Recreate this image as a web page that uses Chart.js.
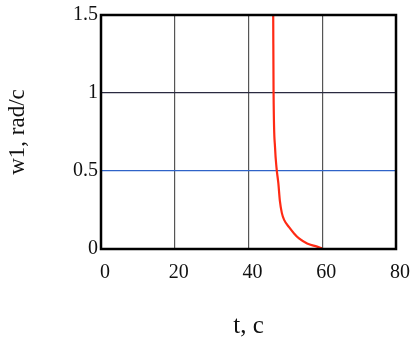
<!DOCTYPE html>
<html>
<head>
<meta charset="utf-8">
<script src="https://cdn.jsdelivr.net/npm/chart.js@4"></script>
<style>
  html, body { margin: 0; padding: 0; background: #fff; }
  #wrap { width: 418px; height: 351px; }
</style>
</head>
<body>
<div id="wrap"><canvas id="w1Chart"></canvas></div>
<script>
// values
var tVals  = [46.7, 46.8, 47.2, 47.6, 48.1, 48.5, 49.05, 49.7, 51.0, 52.35, 53.7, 55.9, 58.6, 59.9];
var w1Vals = [1.5,  1.0,  0.65, 0.52, 0.42, 0.31, 0.23,  0.185, 0.14, 0.10, 0.068, 0.036, 0.015, 0.004];
var xTicks = [0, 20, 40, 60, 80];
var yTicks = [0, 0.5, 1, 1.5];

var pts = tVals.map(function(t, i) { return { x: t, y: w1Vals[i] }; });

// horizontal grid colours like the original (0.5 line is blue)
var yGridColor = function(ctx) {
    var v = ctx.tick ? ctx.tick.value : null;
    if (v === 0.5) return '#2f63c8';
    if (v === 1) return '#2a2a40';
    return '#000';
};

var serif = "'Liberation Serif', 'DejaVu Serif', serif";

new Chart(document.getElementById('w1Chart'), {
    type: 'line',
    data: {
        datasets: [{
            label: 'w1',
            data: pts,
            borderColor: '#ff2a14',
            borderWidth: 2.2,
            pointRadius: 0,
            cubicInterpolationMode: 'monotone',
            fill: false
        }]
    },
    options: {
        responsive: true,
        maintainAspectRatio: false,
        animation: false,
        layout: { padding: { top: 14, right: 18, left: 0, bottom: 6 } },
        plugins: { legend: { display: false }, tooltip: { enabled: false } },
        scales: {
            x: {
                type: 'linear',
                min: 0, max: 80,
                afterBuildTicks: function(s) { s.ticks = xTicks.map(function(v) { return { value: v }; }); },
                afterFit: function(s) { s.height = 96; },
                grid: { color: '#555', lineWidth: 1.2, drawTicks: false },
                border: { color: '#000', width: 2 },
                ticks: { color: '#111', padding: 12, labelOffset: 4, font: { family: serif, size: 20 } },
                title: { display: true, text: 't, c', color: '#111', padding: { top: 7 }, font: { family: serif, size: 25 } }
            },
            y: {
                min: 0, max: 1.5,
                afterBuildTicks: function(s) { s.ticks = yTicks.map(function(v) { return { value: v }; }); },
                afterFit: function(s) { s.width = 101; },
                grid: { color: yGridColor, lineWidth: 1.2, drawTicks: false },
                border: { color: '#000', width: 2 },
                ticks: {
                    color: '#111', padding: 3, font: { family: serif, size: 20 },
                    callback: function(v) { return String(v); }
                },
                title: { display: true, text: 'w1, rad/c', color: '#111', font: { family: serif, size: 23 } }
            }
        }
    },
    plugins: [{
        // closed frame on top and right, like the original plot box
        id: 'frame',
        afterDraw: function(chart) {
            var a = chart.chartArea, c = chart.ctx;
            c.save();
            c.strokeStyle = '#000';
            c.lineWidth = 2.5;
            c.strokeRect(a.left, a.top, a.right - a.left, a.bottom - a.top);
            c.restore();
        }
    }]
});
</script>
</body>
</html>
